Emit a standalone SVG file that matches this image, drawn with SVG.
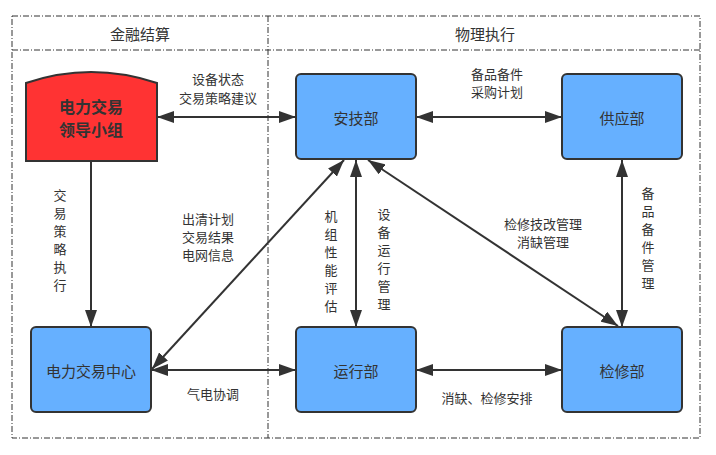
<svg xmlns="http://www.w3.org/2000/svg" width="716" height="455" viewBox="0 0 716 455">
<style>
text{font-family:"Noto Sans CJK SC","Noto Sans",sans-serif;fill:#333;text-anchor:middle;dominant-baseline:central}
.frame{fill:none;stroke:#333;stroke-width:1;stroke-dasharray:6 2 1 2}
.node{fill:#66b0ff;stroke:#333;stroke-width:2}
.lead{fill:#ff3333;stroke:#333;stroke-width:2}
.nt{font-size:15px}
.bt{font-size:16px;font-weight:bold}
.lt{font-size:13px}
.ht{font-size:15px}
.edge{stroke:#333;stroke-width:2;fill:none;marker-end:url(#ah)}
.both{marker-start:url(#ah)}
</style>
<defs>
<marker id="ah" markerUnits="userSpaceOnUse" markerWidth="17" markerHeight="12" refX="17" refY="6" orient="auto-start-reverse">
<path d="M0,0 L17,6 L0,12 z" fill="#333"/>
</marker>
</defs>
<g id="frame">
<rect class="frame" x="12" y="16" width="688" height="422"/>
<line class="frame" x1="12" y1="50" x2="700" y2="50"/>
<line class="frame" x1="268" y1="16" x2="268" y2="438"/>
<text class="ht" x="140" y="33">金融结算</text>
<text class="ht" x="485" y="33">物理执行</text>
</g>
<g id="connectors">
<line class="edge both" x1="157" y1="117" x2="296" y2="117"/>
<line class="edge both" x1="416" y1="117" x2="562" y2="117"/>
<line class="edge" x1="91" y1="161" x2="91" y2="327"/>
<line class="edge both" x1="152" y1="369" x2="344" y2="160"/>
<line class="edge both" x1="356" y1="160" x2="356" y2="327"/>
<line class="edge both" x1="368" y1="160" x2="618" y2="326"/>
<line class="edge both" x1="622" y1="160" x2="622" y2="327"/>
<line class="edge both" x1="151" y1="370" x2="296" y2="370"/>
<line class="edge both" x1="416" y1="370" x2="562" y2="370"/>
<text class="lt" x="218" y="78">设备状态</text>
<text class="lt" x="218" y="97">交易策略建议</text>
<text class="lt" x="497" y="73">备品备件</text>
<text class="lt" x="497" y="91">采购计划</text>
<text class="lt" x="60" y="194">交</text>
<text class="lt" x="60" y="212">易</text>
<text class="lt" x="60" y="230">策</text>
<text class="lt" x="60" y="248">略</text>
<text class="lt" x="60" y="266">执</text>
<text class="lt" x="60" y="284">行</text>
<text class="lt" x="208" y="218">出清计划</text>
<text class="lt" x="208" y="236">交易结果</text>
<text class="lt" x="208" y="254">电网信息</text>
<text class="lt" x="331" y="215">机</text>
<text class="lt" x="331" y="233">组</text>
<text class="lt" x="331" y="251">性</text>
<text class="lt" x="331" y="269">能</text>
<text class="lt" x="331" y="287">评</text>
<text class="lt" x="331" y="305">估</text>
<text class="lt" x="384" y="213">设</text>
<text class="lt" x="384" y="231">备</text>
<text class="lt" x="384" y="249">运</text>
<text class="lt" x="384" y="267">行</text>
<text class="lt" x="384" y="285">管</text>
<text class="lt" x="384" y="303">理</text>
<text class="lt" x="543" y="223">检修技改管理</text>
<text class="lt" x="543" y="241">消缺管理</text>
<text class="lt" x="648" y="192">备</text>
<text class="lt" x="648" y="210">品</text>
<text class="lt" x="648" y="228">备</text>
<text class="lt" x="648" y="246">件</text>
<text class="lt" x="648" y="264">管</text>
<text class="lt" x="648" y="282">理</text>
<text class="lt" x="213" y="393">气电协调</text>
<text class="lt" x="487" y="397">消缺、检修安排</text>
</g>
<g id="lead">
<path class="lead" d="M26,83 Q91,61 157,83 L157,161 L26,161 Z"/>
<text class="bt" x="91" y="106">电力交易</text>
<text class="bt" x="91" y="129">领导小组</text>
</g>
<g id="anji">
<rect class="node" x="296" y="74" width="120" height="85" rx="5"/>
<text class="nt" x="356" y="117">安技部</text>
</g>
<g id="gongying">
<rect class="node" x="562" y="74" width="120" height="85" rx="5"/>
<text class="nt" x="622" y="117">供应部</text>
</g>
<g id="center">
<rect class="node" x="31" y="327" width="120" height="85" rx="5"/>
<text class="nt" x="91" y="370">电力交易中心</text>
</g>
<g id="yunxing">
<rect class="node" x="296" y="327" width="120" height="85" rx="5"/>
<text class="nt" x="356" y="370">运行部</text>
</g>
<g id="jianxiu">
<rect class="node" x="562" y="327" width="120" height="85" rx="5"/>
<text class="nt" x="622" y="370">检修部</text>
</g>
</svg>
